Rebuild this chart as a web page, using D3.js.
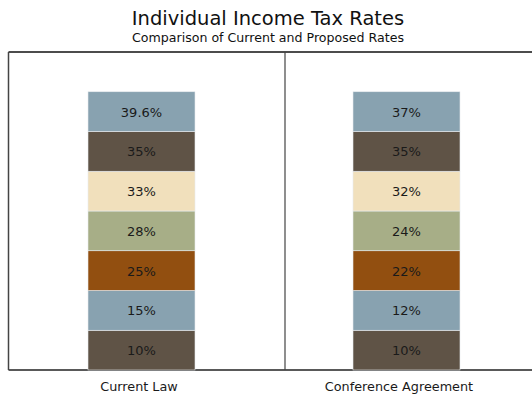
<!DOCTYPE html>
<html><head><meta charset="utf-8">
<script src="https://cdn.jsdelivr.net/npm/d3@7"></script>
<style>body{margin:0;background:#fff;} text{font-family:"DejaVu Sans",Verdana,sans-serif;}</style>
</head><body>
<svg id="c" width="532" height="395"></svg>
<script>
const categories = ["Current Law", "Conference Agreement"];
const brackets = ["b1","b2","b3","b4","b5","b6","b7"];
const currentLaw = ["10%","15%","25%","28%","33%","35%","39.6%"];
const conference = ["10%","12%","22%","24%","32%","35%","37%"];
const colors = ["#5f5346","#88a2b0","#924f10","#a7ae87","#f1e0bc","#5f5346","#88a2b0"];

const svg = d3.select("#c");
const pLeft = 9, pRight = 539, pTop = 52, pBottom = 370;
const x = d3.scaleBand().domain(categories).range([pLeft, pRight]);
const xl = d3.scaleBand().domain(categories).range([pLeft, pRight - 10]);
const barW = 107;
const y = d3.scaleLinear().domain([0, 8]).range([pBottom, pTop]);
const color = d3.scaleOrdinal().domain(brackets).range(colors);

const series = [currentLaw, conference];
const rows = [];
categories.forEach((c, ci) => {
  series[ci].forEach((v, i) => rows.push({cat: c, key: brackets[i], y0: i, y1: i + 1, label: v}));
});

// frame
svg.append("line").attr("x1", pLeft - 0.5).attr("x2", 540).attr("y1", pTop).attr("y2", pTop).attr("stroke", "#111").attr("stroke-width", 1.5);
svg.append("line").attr("x1", pLeft - 0.5).attr("x2", 540).attr("y1", pBottom).attr("y2", pBottom).attr("stroke", "#222").attr("stroke-width", 1.5);
svg.append("line").attr("x1", pLeft - 0.5).attr("x2", pLeft - 0.5).attr("y1", pTop).attr("y2", pBottom).attr("stroke", "#444").attr("stroke-width", 1.5);
svg.append("line").attr("x1", 285).attr("x2", 285).attr("y1", pTop).attr("y2", pBottom).attr("stroke", "#444").attr("stroke-width", 1.2);

const cx = c => x(c) + x.bandwidth() / 2;

svg.append("g").selectAll("rect").data(rows).join("rect")
  .attr("x", d => cx(d.cat) - barW / 2)
  .attr("width", barW)
  .attr("y", d => y(d.y1))
  .attr("height", d => y(d.y0) - y(d.y1))
  .attr("fill", d => color(d.key))
  .attr("stroke", "#e8ecee").attr("stroke-width", 0.6);

svg.append("g").selectAll("text").data(rows).join("text")
  .attr("x", d => cx(d.cat))
  .attr("y", d => (y(d.y0) + y(d.y1)) / 2 + 5)
  .attr("text-anchor", "middle")
  .attr("font-size", 13)
  .attr("fill", "#1a1a1a")
  .text(d => d.label);

// x axis labels
svg.append("g").selectAll("text").data(categories).join("text")
  .attr("x", d => xl(d) + xl.bandwidth() / 2)
  .attr("y", 391)
  .attr("text-anchor", "middle")
  .attr("font-size", 12.8)
  .attr("fill", "#1a1a1a")
  .text(d => d);

svg.append("text").attr("x", 268).attr("y", 25).attr("text-anchor", "middle")
  .attr("font-size", 19.5).attr("fill", "#111").text("Individual Income Tax Rates");
svg.append("text").attr("x", 268).attr("y", 42).attr("text-anchor", "middle")
  .attr("font-size", 12.6).attr("fill", "#111").text("Comparison of Current and Proposed Rates");
</script>
</body></html>
